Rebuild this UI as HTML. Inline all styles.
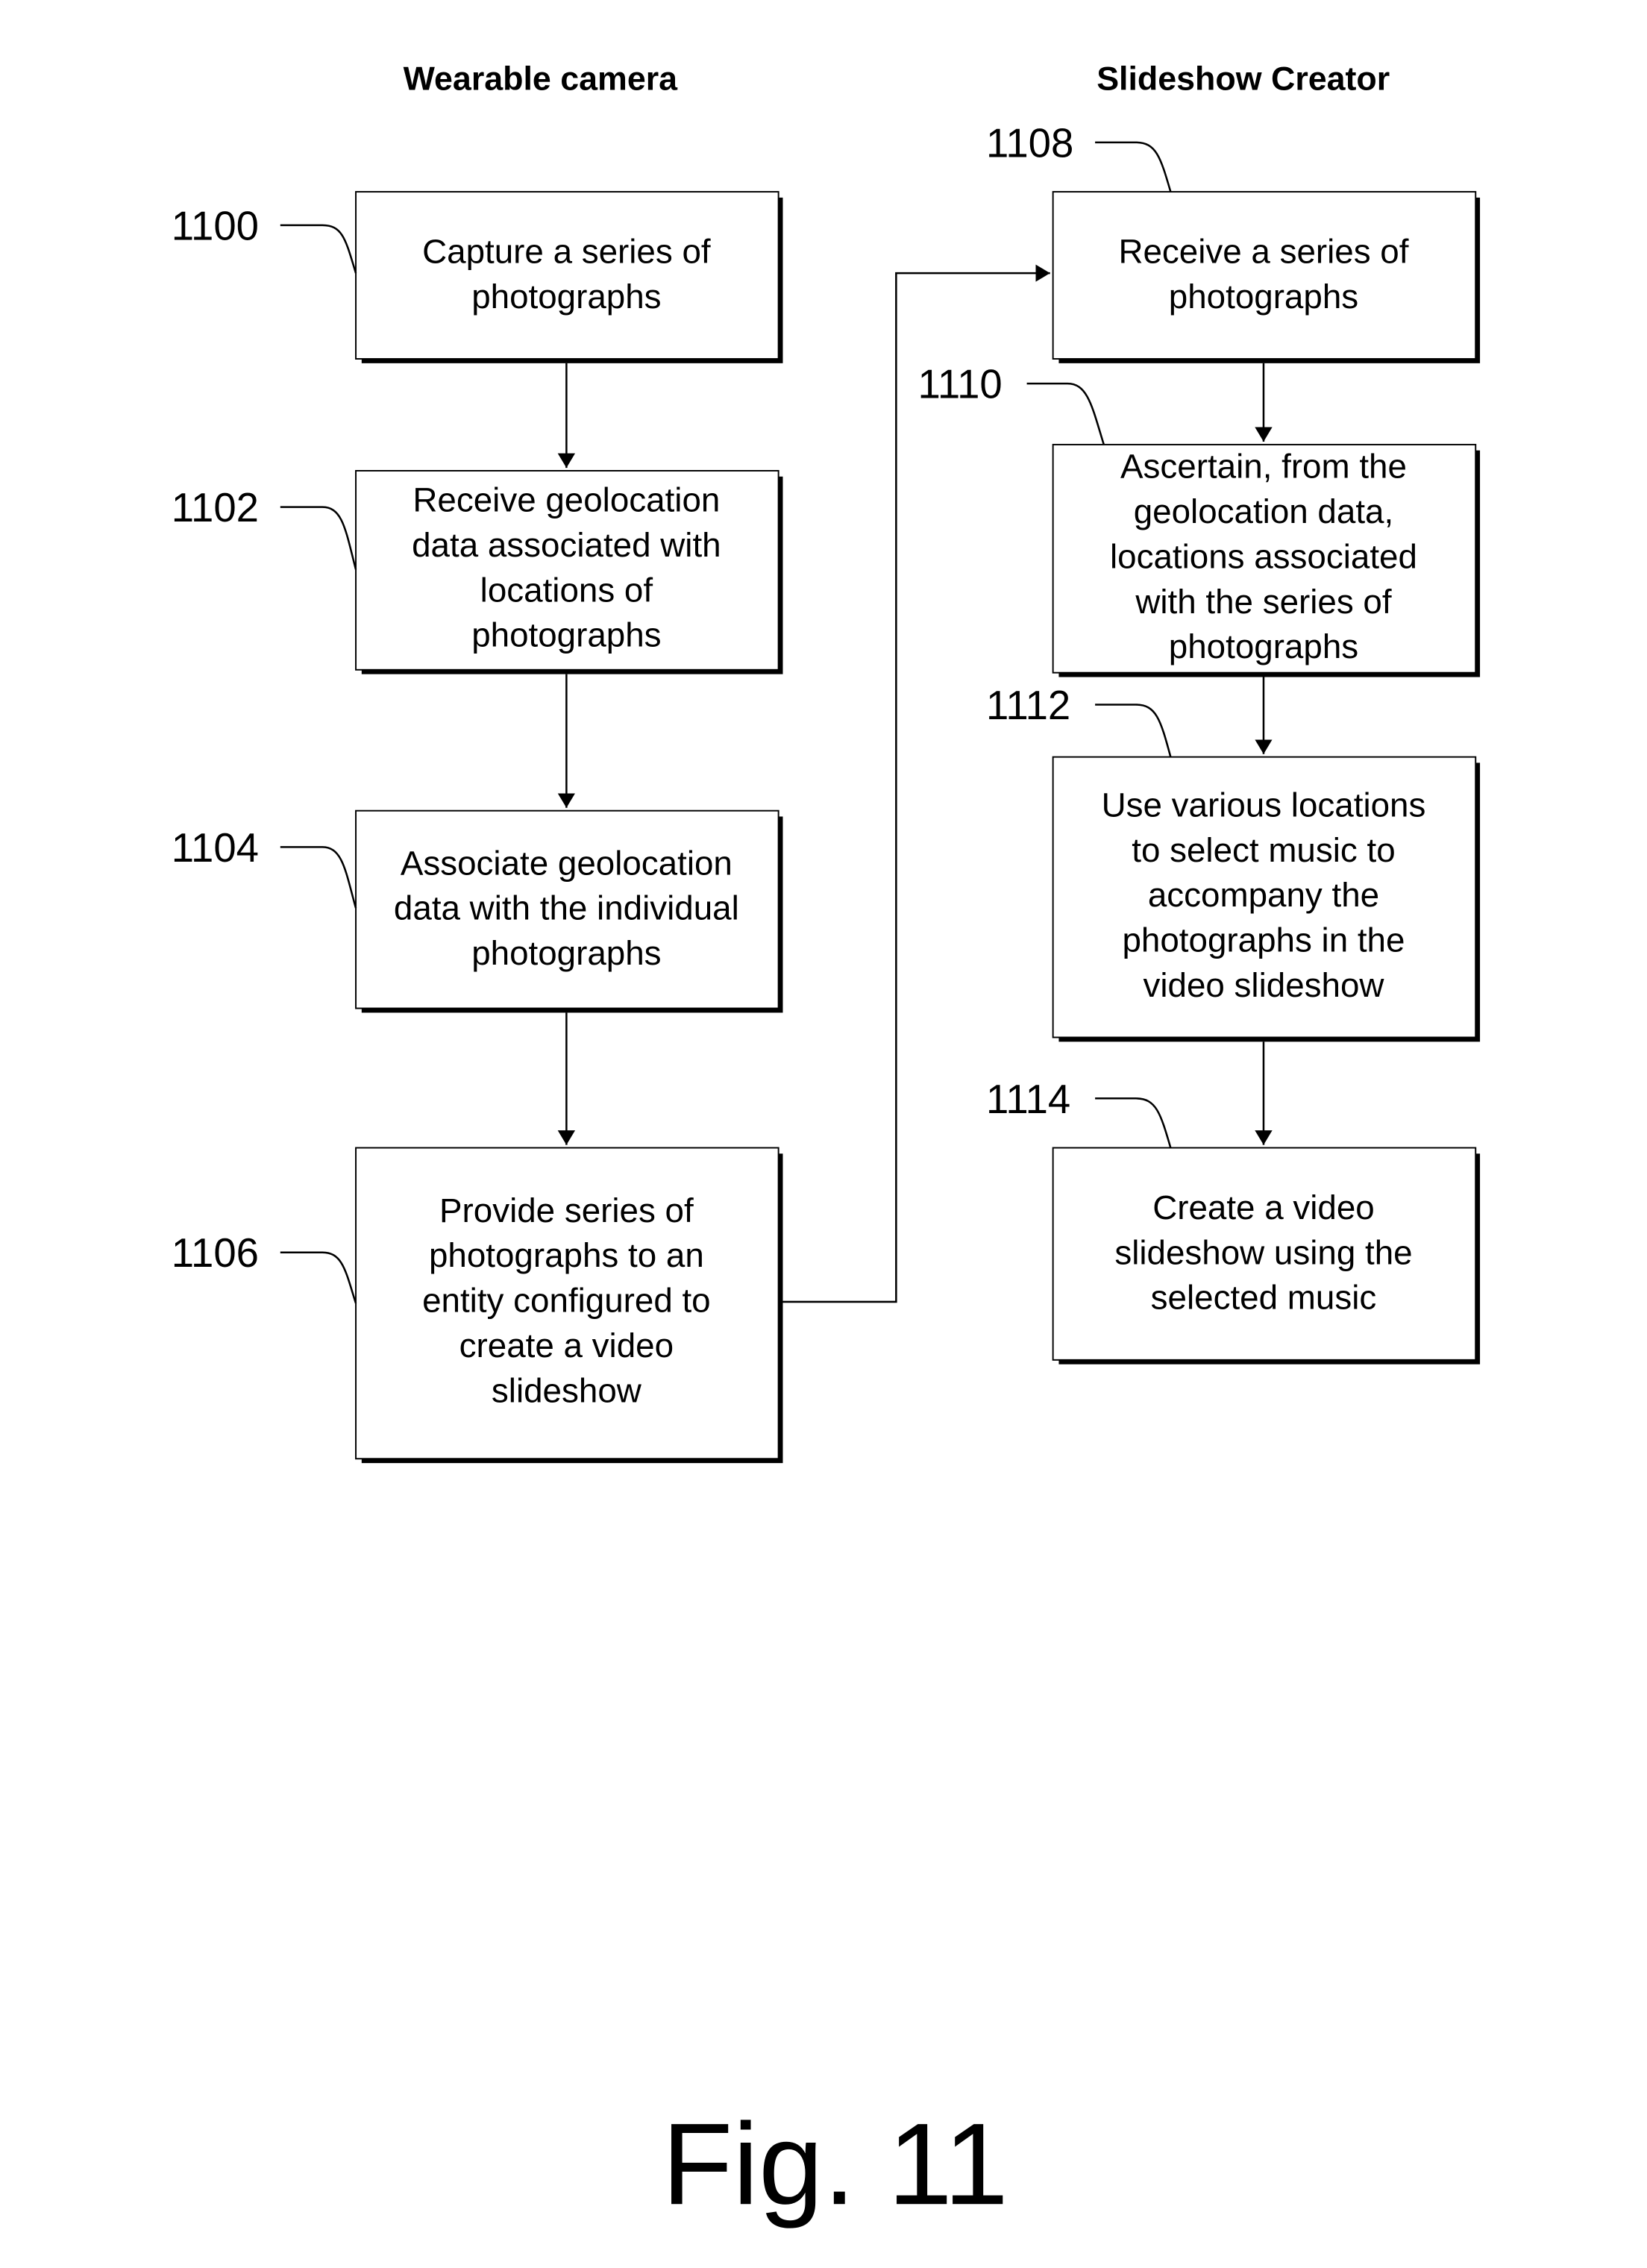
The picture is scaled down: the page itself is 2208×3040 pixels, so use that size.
<!DOCTYPE html>
<html><head><meta charset="utf-8"><style>html,body{margin:0;padding:0;background:#fff}svg{display:block}</style></head>
<body>
<svg width="2208" height="3040" viewBox="0 0 1134 1561" preserveAspectRatio="none" xmlns="http://www.w3.org/2000/svg" font-family="Liberation Sans, Arial, sans-serif">
<defs><marker id="a" markerWidth="10" markerHeight="16" refX="10" refY="8" orient="auto" markerUnits="userSpaceOnUse"><path d="M0,2 L10,8 L0,14 z" fill="#000"/></marker>
<marker id="d" markerWidth="14" markerHeight="20" refX="7" refY="20" orient="auto-start-reverse" markerUnits="userSpaceOnUse"></marker></defs>
<g font-weight="bold" font-size="23" text-anchor="middle">
<text x="372" y="62">Wearable camera</text>
<text x="856" y="62">Slideshow Creator</text>
</g>
<g fill="#fff" stroke="#000">
<!-- shadows -->
<g stroke="none" fill="#000">
<rect x="249" y="136" width="290" height="114"/>
<rect x="249" y="328" width="290" height="136"/>
<rect x="249" y="562" width="290" height="135"/>
<rect x="249" y="794" width="290" height="213"/>
<rect x="729" y="136" width="290" height="114"/>
<rect x="729" y="310" width="290" height="156"/>
<rect x="729" y="525" width="290" height="192"/>
<rect x="729" y="794" width="290" height="145"/>
</g>
<g stroke-width="1">
<rect x="245" y="132" width="291" height="115"/>
<rect x="245" y="324" width="291" height="137"/>
<rect x="245" y="558" width="291" height="136"/>
<rect x="245" y="790" width="291" height="214"/>
<rect x="725" y="132" width="291" height="115"/>
<rect x="725" y="306" width="291" height="157"/>
<rect x="725" y="521" width="291" height="193"/>
<rect x="725" y="790" width="291" height="146"/>
</g>
</g>
<g stroke="#000" stroke-width="1.3" fill="none">
<line x1="390" y1="250" x2="390" y2="322" marker-end="url(#a)" />
<line x1="390" y1="464" x2="390" y2="556" marker-end="url(#a)"/>
<line x1="390" y1="697" x2="390" y2="788" marker-end="url(#a)"/>
<line x1="870" y1="250" x2="870" y2="304" marker-end="url(#a)"/>
<line x1="870" y1="466" x2="870" y2="519" marker-end="url(#a)"/>
<line x1="870" y1="717" x2="870" y2="788" marker-end="url(#a)"/>
<polyline points="539,896 617,896 617,188 723,188" marker-end="url(#a)"/>
<path d="M193,155 H222 C236,155 238,165 245,188"/>
<path d="M193,349 H222 C236,349 238,365 245,392"/>
<path d="M193,583 H222 C236,583 238,600 245,625"/>
<path d="M193,862 H222 C236,862 238,875 245,897"/>
<path d="M754,98 H782 C796,98 799,108 806,132"/>
<path d="M707,264 H735 C749,264 752,280 760,306"/>
<path d="M754,485 H782 C796,485 799,495 806,521"/>
<path d="M754,756 H782 C796,756 799,766 806,790"/>
</g>
<g font-size="28">
<text x="118" y="165">1100</text>
<text x="118" y="359">1102</text>
<text x="118" y="593">1104</text>
<text x="118" y="872">1106</text>
<text x="679" y="108">1108</text>
<text x="632" y="274">1110</text>
<text x="679" y="495">1112</text>
<text x="679" y="766">1114</text>
</g>
<g font-size="23.5" text-anchor="middle">
<text x="390" y="181">Capture a series of</text>
<text x="390" y="212">photographs</text>
<text x="390" y="352">Receive geolocation</text>
<text x="390" y="383">data associated with</text>
<text x="390" y="414">locations of</text>
<text x="390" y="445">photographs</text>
<text x="390" y="602">Associate geolocation</text>
<text x="390" y="633">data with the individual</text>
<text x="390" y="664">photographs</text>
<text x="390" y="841">Provide series of</text>
<text x="390" y="872">photographs to an</text>
<text x="390" y="903">entity configured to</text>
<text x="390" y="934">create a video</text>
<text x="390" y="965">slideshow</text>
<text x="870" y="181">Receive a series of</text>
<text x="870" y="212">photographs</text>
<text x="870" y="329">Ascertain, from the</text>
<text x="870" y="360">geolocation data,</text>
<text x="870" y="391">locations associated</text>
<text x="870" y="422">with the series of</text>
<text x="870" y="453">photographs</text>
<text x="870" y="562">Use various locations</text>
<text x="870" y="593">to select music to</text>
<text x="870" y="624">accompany the</text>
<text x="870" y="655">photographs in the</text>
<text x="870" y="686">video slideshow</text>
<text x="870" y="839">Create a video</text>
<text x="870" y="870">slideshow using the</text>
<text x="870" y="901">selected music</text>
</g>
<text x="575" y="1517" font-size="80" text-anchor="middle">Fig. 11</text>
</svg>
</body></html>
